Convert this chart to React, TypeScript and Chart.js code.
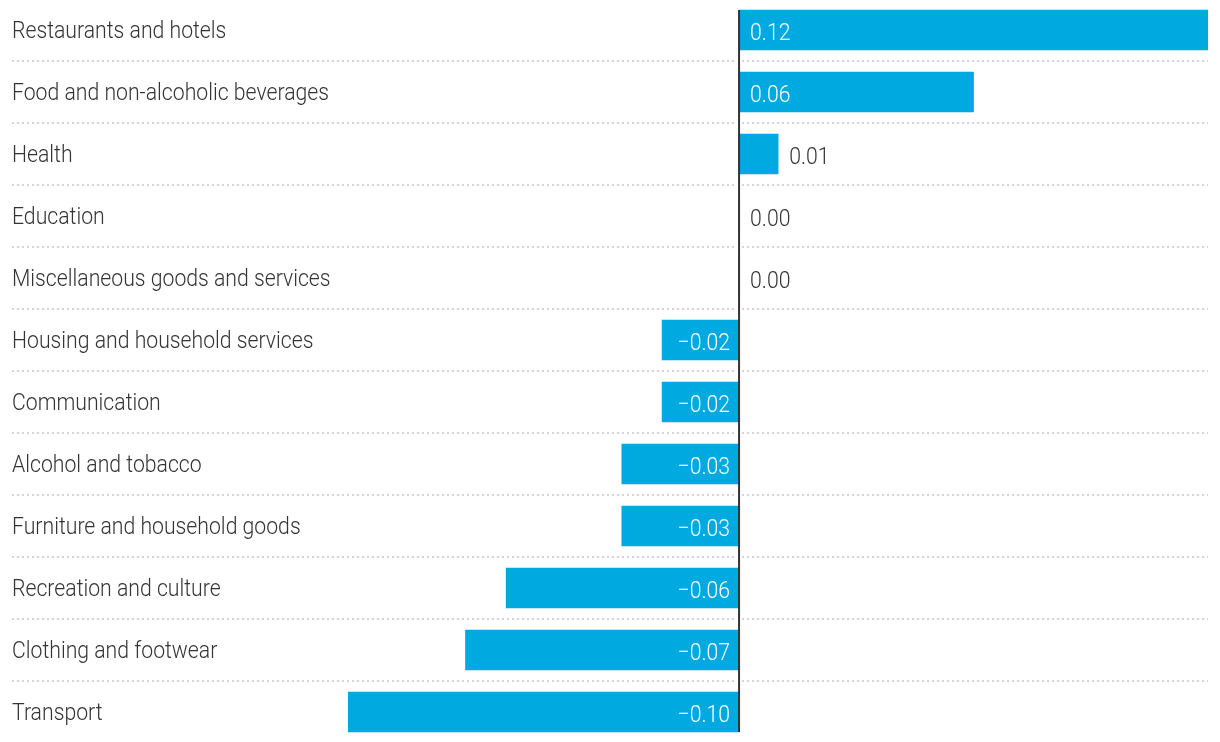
import React, { useEffect, useRef } from 'react';
import { Chart, registerables } from 'chart.js';

Chart.register(...registerables);

const categories = [
  'Restaurants and hotels',
  'Food and non-alcoholic beverages',
  'Health',
  'Education',
  'Miscellaneous goods and services',
  'Housing and household services',
  'Communication',
  'Alcohol and tobacco',
  'Furniture and household goods',
  'Recreation and culture',
  'Clothing and footwear',
  'Transport',
];

const values = [0.12, 0.06, 0.01, 0, 0, -0.0197, -0.0197, -0.03, -0.03, -0.0596, -0.07, -0.1];

const axisMin = -0.18605;
const axisMax = 0.12;

const BAR_COLOR = '#00A9E0';
const TEXT_COLOR = '#333333';
const GRID_COLOR = '#d4d4d4';
const FONT = '300 24px Roboto, "Noto Sans", sans-serif';
// horizontal condensing so Roboto approximates the condensed face of the reference
const REF_TEXT = 'Food and non-alcoholic beverages';
const REF_TEXT_WIDTH = 317;

function fmt(v: number): string {
  return v.toFixed(2).replace('-', '\u2212');
}

function drawText(ctx: any, txt: string, x: number, y: number, align: string, sx: number) {
  ctx.save();
  ctx.translate(x, y);
  ctx.scale(sx, 1);
  ctx.textAlign = align;
  ctx.fillText(txt, 0, 0);
  ctx.restore();
}

const overlayPlugin = {
  id: 'overlay',
  beforeDatasetsDraw(chart: any) {
    const { ctx, chartArea, scales } = chart;
    const meta = chart.getDatasetMeta(0);
    const zeroX = scales.x.getPixelForValue(0);
    ctx.save();
    ctx.strokeStyle = GRID_COLOR;
    ctx.lineWidth = 2;
    ctx.setLineDash([2, 3]);
    for (let i = 0; i < meta.data.length - 1; i++) {
      const y = Math.round((meta.data[i].y + meta.data[i + 1].y) / 2);
      ctx.beginPath();
      ctx.moveTo(chartArea.left, y);
      ctx.lineTo(zeroX - 4, y);
      ctx.moveTo(zeroX + 3, y);
      ctx.lineTo(chartArea.right, y);
      ctx.stroke();
    }
    ctx.restore();
  },
  afterDatasetsDraw(chart: any) {
    const { ctx, chartArea, scales } = chart;
    const meta = chart.getDatasetMeta(0);
    const zeroX = scales.x.getPixelForValue(0);
    ctx.save();
    const first = meta.data[0];
    const last = meta.data[meta.data.length - 1];
    ctx.strokeStyle = '#333333';
    ctx.lineWidth = 2;
    ctx.beginPath();
    ctx.moveTo(zeroX, first.y - first.height / 2);
    ctx.lineTo(zeroX, last.y + last.height / 2);
    ctx.stroke();

    ctx.font = FONT;
    ctx.textBaseline = 'alphabetic';
    const sx = REF_TEXT_WIDTH / ctx.measureText(REF_TEXT).width;
    meta.data.forEach((bar: any, i: number) => {
      ctx.fillStyle = TEXT_COLOR;
      drawText(ctx, categories[i], chartArea.left, bar.y + 8, 'left', sx);

      const v = values[i];
      const txt = fmt(v);
      const w = ctx.measureText(txt).width * sx;
      const barLen = Math.abs(bar.x - zeroX);
      const pad = 11;
      const inside = barLen >= w + pad * 2;
      const by = bar.y + 10;
      if (v >= 0) {
        if (inside) {
          ctx.fillStyle = '#ffffff';
          drawText(ctx, txt, zeroX + pad, by, 'left', sx);
        } else {
          ctx.fillStyle = TEXT_COLOR;
          drawText(ctx, txt, (barLen > 1 ? bar.x : zeroX) + pad, by, 'left', sx);
        }
      } else {
        if (inside) {
          ctx.fillStyle = '#ffffff';
          drawText(ctx, txt, zeroX - 9, by, 'right', sx);
        } else {
          ctx.fillStyle = TEXT_COLOR;
          drawText(ctx, txt, bar.x - pad, by, 'right', sx);
        }
      }
    });
    ctx.restore();
  },
};

export default function App() {
  const canvasRef = useRef<HTMLCanvasElement | null>(null);

  useEffect(() => {
    if (!canvasRef.current) return;
    const chart = new Chart(canvasRef.current, {
      type: 'bar',
      data: {
        labels: categories,
        datasets: [
          {
            data: values,
            backgroundColor: BAR_COLOR,
            borderWidth: 0,
            barThickness: 40,
          },
        ],
      },
      options: {
        indexAxis: 'y',
        responsive: false,
        animation: false,
        devicePixelRatio: 1,
        layout: { padding: { left: 12, right: 12, top: 0, bottom: 0 } },
        plugins: {
          legend: { display: false },
          tooltip: { enabled: false },
        },
        scales: {
          x: { display: false, min: axisMin, max: axisMax },
          y: { display: false, offset: true },
        },
      },
      plugins: [overlayPlugin],
    });
    return () => chart.destroy();
  }, []);

  return (
    <div style={{ position: 'fixed', left: 0, top: -1, width: 1220, height: 744, background: '#fff' }}>
      <canvas ref={canvasRef} width={1220} height={744} style={{ display: 'block' }} />
    </div>
  );
}
